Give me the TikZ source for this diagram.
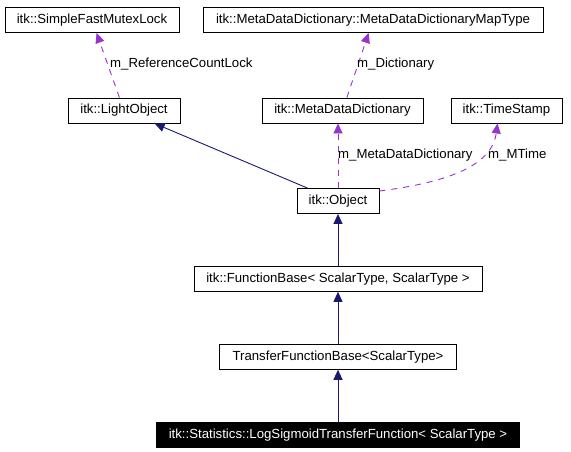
\documentclass[tikz,border=0pt]{standalone}
\usepackage{fontspec}
\setmainfont{Liberation Sans}
\usetikzlibrary{positioning, arrows.meta, calc}
\definecolor{inheritblue}{HTML}{191970}
\definecolor{usagepurple}{HTML}{9A32CD}

\begin{document}
\begin{tikzpicture}[
        x=1pt, y=-1pt,
        node distance=52pt, % 类之间的竖直间距
        cls/.style={rectangle, draw=black, fill=white, line width=0.9pt, minimum height=25pt, inner sep=0pt, text centered, font=\fontsize{13.2}{15}\selectfont},
        inherit/.style={draw=inheritblue, line width=0.9pt, -{Triangle[length=10pt, width=9pt]}},
        usage/.style={draw=usagepurple, line width=0.9pt, dash pattern=on 6pt off 6pt, -{Triangle[length=10pt, width=9pt]}},
        lbl/.style={anchor=west, inner sep=0pt, font=\fontsize{13.2}{15}\selectfont}
    ]
        \fill [white] (0,0) rectangle (571,451);
        \useasboundingbox (0,0) rectangle (571,451);

        % ===== 继承链 =====
        \node (object) [cls, minimum width=82pt] at (338,201) {itk::Object};
        \node (funcBase) [cls, minimum width=288pt, below=of object] {itk::FunctionBase< ScalarType, ScalarType >};
        \node (transferBase) [cls, minimum width=237pt, below=of funcBase] {TransferFunctionBase<ScalarType>};
        \node (logSigmoid) [cls, minimum width=363pt, fill=black, text=white, below=of transferBase] {itk::Statistics::LogSigmoidTransferFunction< ScalarType >};

        % ===== 成员类 =====
        \node (lightObject) [cls, minimum width=112pt] at (124,110.5) {itk::LightObject};
        \node (metaDict) [cls, minimum width=161pt] at (342.5,110.5) {itk::MetaDataDictionary};
        \node (timeStamp) [cls, minimum width=111pt] at (506.5,110.5) {itk::TimeStamp};
        \node (mutexLock) [cls, minimum width=174pt] at (92,20) {itk::SimpleFastMutexLock};
        \node (mapType) [cls, minimum width=340pt] at (373,20) {itk::MetaDataDictionary::MetaDataDictionaryMapType};

        % ===== 箭头连接 =====
        % 继承
        \draw [inherit] (object) -- (lightObject);
        \draw [inherit] (funcBase) -- (object);
        \draw [inherit] (transferBase) -- (funcBase);
        \draw [inherit] (logSigmoid) -- (transferBase);

        % 成员
        \draw [usage] (lightObject) -- (mutexLock);
        \draw [usage] (metaDict) -- (mapType);
        \draw [usage] (object.north) -- (object.north |- metaDict.south);
        \draw [usage] ([yshift=10pt]object.east) .. controls (450,182) and (492,165) .. ($(timeStamp.south)+(-9,0)$);

        % 成员名
        \node (refLbl) [lbl] at (110,64) {m\_ReferenceCountLock};
        \node (dictLbl) [lbl] at (357,64) {m\_Dictionary};
        \node (mddLbl) [lbl] at (338,155) {m\_MetaDataDictionary};
        \node (mtimeLbl) [lbl] at (488,155) {m\_MTime};

    \end{tikzpicture}
\end{document}
